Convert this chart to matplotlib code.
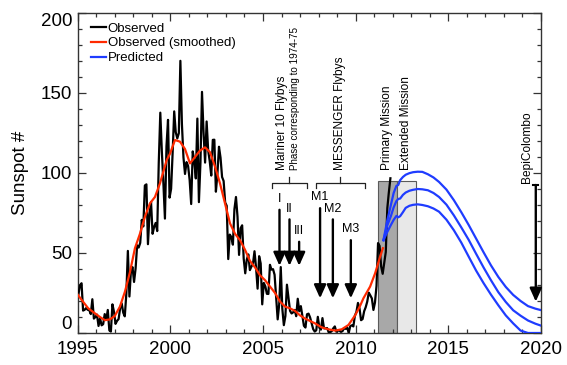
import numpy as np
import matplotlib
matplotlib.use('Agg')
import matplotlib.pyplot as plt
from matplotlib.ticker import MultipleLocator

plt.rcParams['font.family'] = ['Liberation Sans', 'DejaVu Sans']

# ---------------- data ----------------
# monthly observed sunspot number, Jan 1995 .. Nov 2011
obs_1995 = [24.2, 29.9, 31.1, 14.0, 14.5, 15.6, 14.5, 14.3, 11.8, 21.1, 9.0, 10.0]
obs_1996 = [11.5, 4.4, 9.2, 4.8, 5.5, 11.8, 8.2, 14.4, 1.6, 0.9, 17.9, 13.3]
obs_1997 = [5.7, 7.6, 8.7, 15.5, 18.5, 12.7, 10.4, 24.4, 51.3, 22.8, 39.0, 41.2]
obs_1998 = [31.9, 40.3, 54.8, 53.4, 56.3, 70.7, 66.6, 92.2, 92.9, 55.5, 74.0, 81.9]
obs_1999 = [62.0, 66.3, 68.8, 63.7, 106.4, 137.7, 113.5, 93.7, 71.5, 116.7, 133.2, 84.6]
obs_2000 = [90.1, 112.9, 138.5, 125.5, 121.6, 124.9, 170.1, 130.5, 109.7, 99.4, 106.8, 104.4]
obs_2001 = [95.6, 80.6, 113.5, 107.7, 96.6, 134.0, 81.8, 106.4, 150.7, 125.5, 106.5, 132.2]
obs_2002 = [114.1, 107.4, 98.4, 120.7, 120.8, 88.3, 99.6, 116.4, 109.6, 97.5, 95.0, 81.6]
obs_2003 = [79.5, 46.2, 61.5, 60.0, 55.2, 77.4, 85.0, 72.7, 48.8, 65.5, 67.3, 46.5]
obs_2004 = [37.3, 45.8, 49.1, 39.3, 41.5, 43.2, 51.1, 40.9, 27.7, 48.0, 43.5, 17.9]
obs_2005 = [31.3, 29.2, 24.5, 24.4, 42.6, 39.6, 39.9, 36.4, 22.1, 8.5, 18.0, 41.2]
obs_2006 = [15.3, 4.9, 10.6, 30.2, 22.3, 13.9, 12.2, 12.9, 14.4, 10.5, 21.4, 13.6]
obs_2007 = [16.8, 10.7, 4.5, 3.4, 11.7, 12.1, 9.7, 6.0, 2.4, 0.9, 1.7, 10.1]
obs_2008 = [3.3, 2.1, 9.3, 2.9, 2.9, 3.1, 0.5, 0.5, 1.1, 2.9, 4.1, 0.8]
obs_2009 = [1.5, 1.4, 0.7, 1.2, 2.9, 2.6, 3.5, 0.0, 4.3, 4.8, 4.1, 10.8]
obs_2010 = [13.2, 18.8, 15.4, 8.0, 8.7, 13.6, 16.1, 19.6, 25.2, 23.5, 21.6, 14.4]
obs_2011 = [19.0, 29.4, 56.2, 54.4, 41.6, 37.0, 43.8, 50.6, 78.0, 88.0, 96.7]
obs_start_year = 1995

smooth_x = [1995.0, 1995.22, 1995.57, 1995.93, 1996.2, 1996.47, 1996.74, 1997.0,
            1997.28, 1997.55, 1997.82, 1998.09, 1998.36, 1998.63, 1998.9, 1999.17,
            1999.44, 1999.8, 1999.98, 2000.25, 2000.52, 2000.79, 2001.06, 2001.33,
            2001.6, 2001.87, 2002.14, 2002.41, 2002.68, 2002.95, 2003.22, 2003.49,
            2003.76, 2004.03, 2004.3, 2004.57, 2004.84, 2005.11, 2005.38, 2005.65,
            2005.92, 2006.19, 2006.46, 2006.73, 2007.0, 2007.27, 2007.45, 2007.81,
            2008.17, 2008.53, 2008.89, 2009.25, 2009.61, 2009.97, 2010.24, 2010.42,
            2010.78, 2011.05, 2011.32, 2011.47]
smooth_y = [24, 20.6, 15.4, 12.3, 10, 8, 8.5, 10.6,
            16.5, 25.8, 38, 53, 62, 72.7, 81, 85,
            93.5, 108, 112, 120.6, 119.6, 115, 106, 110,
            114, 116, 113, 104, 93.5, 81, 68.5, 62,
            58, 52, 45, 41, 36, 33, 29, 25,
            19.6, 16.5, 15.4, 13.8, 11, 9, 8, 6,
            3.5, 2.3, 1.5, 2.3, 5, 11, 17, 21.7,
            29, 37.3, 47.7, 53]

pred_x = [2011.5, 2011.7, 2011.9, 2012.05, 2012.2, 2012.3, 2012.4, 2012.55, 2012.7,
          2012.9, 2013.1, 2013.35, 2013.6, 2013.9, 2014.2, 2014.5, 2014.9, 2015.3,
          2015.7, 2016.1, 2016.5, 2016.9, 2017.3, 2017.7, 2018.1, 2018.5, 2018.9,
          2019.3, 2019.7, 2020.0]
pred_high = [58, 70, 80, 87.5, 92, 92.5, 95.5, 97.5, 98.9,
             99.9, 100.5, 100.8, 100.7, 99.2, 97.2, 94.4, 89.6, 83,
             75.5, 67.5, 59, 50.5, 42.3, 35, 28.8, 23.8, 20,
             16.8, 15.2, 14.3]
pred_mid = [58, 67, 73, 78.5, 82.5, 83.8, 84, 86.3, 87.8,
            88.9, 89.5, 90, 89.8, 89.2, 87.5, 85, 80.2, 73.5,
            66, 58.2, 49.5, 41, 33, 25.5, 19.4, 14.2, 10.8,
            7.8, 5.8, 4.6]
pred_low = [58, 63, 67.5, 70.7, 73.2, 72.3, 73, 75.5, 78.2,
            79.5, 80.1, 80.4, 80, 79.2, 77.8, 75.8, 70.8, 64.2,
            56.5, 47.7, 39, 31.2, 24, 17.3, 11, 6, 1.5,
            0, 0, 0]

mission_labels = ['Primary Mission', 'Extended Mission']
mission_start = [2011.18, 2012.22]
mission_end = [2012.22, 2013.23]
mission_top = 95
mission_colors = ['#a8a8a8', '#e8e8e8']

mariner_x = [2005.89, 2006.43, 2006.95]
mariner_top = [77, 71, 57]
mariner_names = ['I', 'II', 'III']
messenger_x = [2008.08, 2008.77, 2009.74]
messenger_top = [78, 71, 58]
messenger_names = ['M1', 'M2', 'M3']
bepi_x = 2019.72

# ---------------- figure ----------------
obs_values = (obs_1995 + obs_1996 + obs_1997 + obs_1998 + obs_1999 + obs_2000 +
              obs_2001 + obs_2002 + obs_2003 + obs_2004 + obs_2005 + obs_2006 +
              obs_2007 + obs_2008 + obs_2009 + obs_2010 + obs_2011)
obs_x = obs_start_year + (np.arange(len(obs_values)) + 0.5) / 12.0

fig = plt.figure(figsize=(5.67, 3.65), dpi=100)
ax = fig.add_axes([0.137, 0.0877, 0.8171, 0.8767])

# mission boxes
for s, e, c in zip(mission_start, mission_end, mission_colors):
    ax.bar(s, mission_top, width=e - s, align='edge', color=c,
           edgecolor='#5a5a5a', linewidth=0.8, zorder=1)

ax.plot(obs_x, obs_values, color='black', lw=1.6, zorder=3, label='Observed')
ax.plot(smooth_x, smooth_y, color='#ff2a00', lw=1.6, zorder=4,
        label='Observed (smoothed)')
blue = '#1f3cff'
ax.plot(pred_x, pred_high, color=blue, lw=1.6, zorder=5, label='Predicted')
ax.plot(pred_x, pred_mid, color=blue, lw=1.6, zorder=5)
ax.plot(pred_x, pred_low, color=blue, lw=1.6, zorder=5)

ax.set_xlim(1995, 2020)
ax.set_ylim(0, 200)
ax.set_xticks([1995, 2000, 2005, 2010, 2015, 2020])
ax.set_yticks([0, 50, 100, 150, 200])
ax.xaxis.set_minor_locator(MultipleLocator(1))
ax.yaxis.set_minor_locator(MultipleLocator(10))
ax.tick_params(which='both', direction='in', top=True, right=True,
               width=0.9, color='#333333', labelsize=13.5)
ax.tick_params(which='major', length=5.5)
ax.tick_params(which='minor', length=3)
ax.tick_params(axis='x', pad=6)
ax.tick_params(axis='y', pad=4)
for sp in ax.spines.values():
    sp.set_linewidth(1.0)
    sp.set_color('#333333')
ylabs = ax.get_yticklabels()
ylabs[0].set_va('bottom')
ylabs[-1].set_va('top')

ax.set_ylabel('Sunspot #', fontsize=13.5)
ax.yaxis.set_label_coords(-0.105, 0.5)

leg = ax.legend(loc='upper left', bbox_to_anchor=(0.028, 0.971), frameon=False,
                fontsize=9.5, handlelength=1.2, handletextpad=0.1,
                labelspacing=0.2, borderpad=0, borderaxespad=0)

# text labels
tfs = 8.6
ax.text(2006.03, 102, 'Mariner 10 Flybys', rotation=90, ha='center', va='bottom', fontsize=tfs)
ax.text(2006.73, 102, 'Phase corresponding to 1974-75', rotation=90, ha='center',
        va='bottom', fontsize=7.1)
ax.text(2009.16, 102, 'MESSENGER Flybys', rotation=90, ha='center', va='bottom', fontsize=tfs)
ax.text(2011.68, 102, mission_labels[0], rotation=90, ha='center', va='bottom', fontsize=tfs)
ax.text(2012.71, 102, mission_labels[1], rotation=90, ha='center', va='bottom', fontsize=tfs)
ax.text(2019.24, 93.5, 'BepiColombo', rotation=90, ha='center', va='bottom', fontsize=tfs)

# brackets
def bracket(x0, x1):
    xc = (x0 + x1) / 2
    ax.plot([x0, x0, x1, x1], [90.6, 94, 94, 90.6], color='#222222', lw=0.9, zorder=6)
    ax.plot([xc, xc], [94, 97.5], color='#222222', lw=0.9, zorder=6)

bracket(2005.47, 2007.37)
bracket(2007.85, 2010.48)

arrow_style = '-|>,head_length=0.4,head_width=0.18'

def down_arrow(x, top, bottom):
    ax.annotate('', xy=(x, bottom), xytext=(x, top),
                arrowprops=dict(arrowstyle=arrow_style, color='black', lw=1.7,
                                mutation_scale=20, shrinkA=0, shrinkB=0),
                zorder=6)

for x, t, n in zip(mariner_x, mariner_top, mariner_names):
    down_arrow(x, t, 42)
    ax.text(x, t + 3, n, ha='center', va='bottom', fontsize=9)
for x, t, n in zip(messenger_x, messenger_top, messenger_names):
    down_arrow(x, t, 21.7)
    ax.text(x, t + 3, n, ha='center', va='bottom', fontsize=9)

down_arrow(bepi_x, 92.5, 19.6)
ax.plot([bepi_x - 0.13, bepi_x + 0.13], [92.3, 92.3], color='black', lw=1.5, zorder=6)

fig.savefig('out.png', dpi=100)
